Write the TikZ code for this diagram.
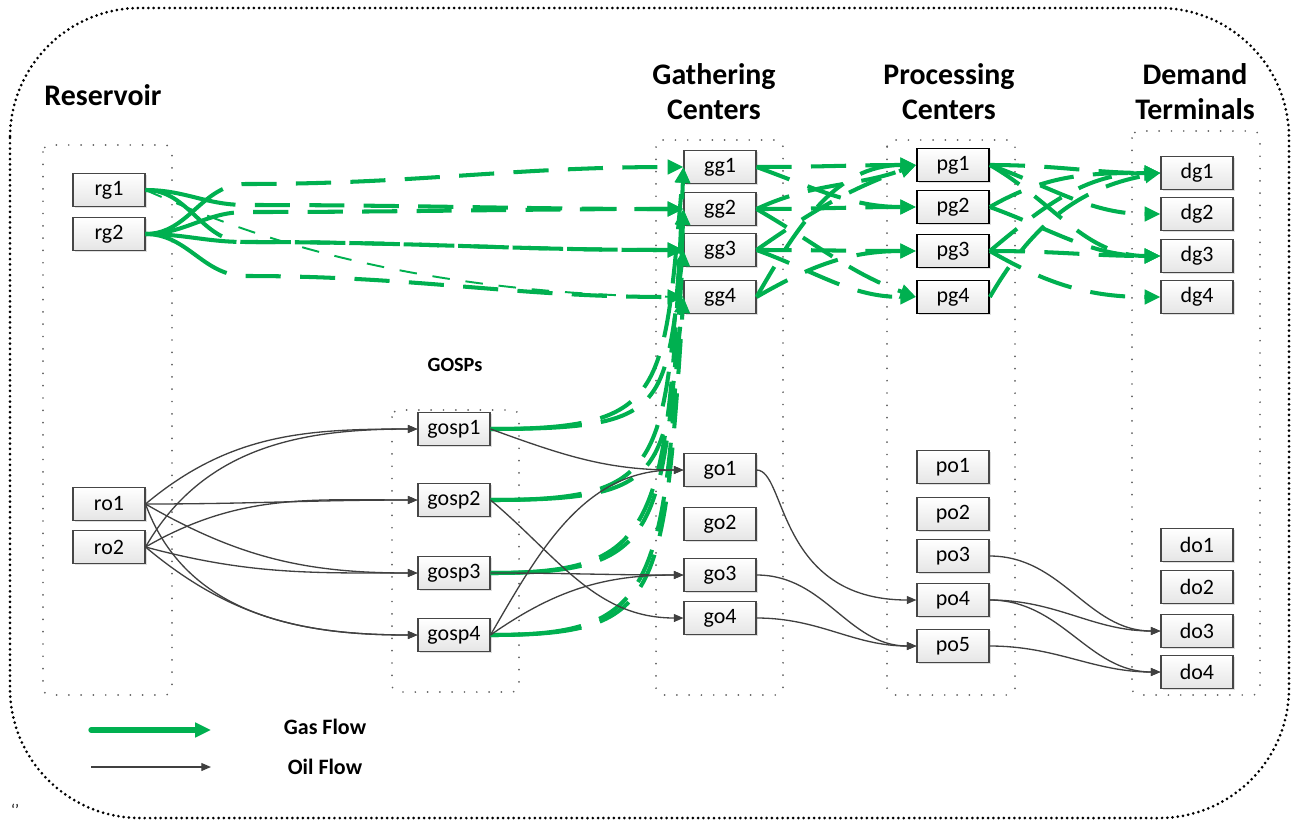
\documentclass[tikz,border=0pt]{standalone}
\usepackage{fontspec}
\setmainfont{Carlito}
\usetikzlibrary{arrows.meta,shadows}
\definecolor{gasgreen}{RGB}{0,176,80}
\definecolor{oilgray}{RGB}{64,64,64}
\tikzset{
  unit/.style = {draw=gray!55!black, line width=0.6pt, top color=white, bottom color=gray!20,
    minimum width=1.44cm, minimum height=0.66cm, inner sep=0pt, font=\fontsize{12.5}{14}\selectfont,
    drop shadow={shadow xshift=1pt, shadow yshift=-1pt, opacity=0.25}},
  procunit/.style = {unit, draw=black, line width=1pt},
  heading/.style = {font=\fontsize{17}{20}\selectfont\bfseries, align=center},
  legendtext/.style = {font=\fontsize{12.5}{15}\selectfont\bfseries},
  gas/.style = {draw=gasgreen, line width=2.3pt, dash pattern=on 20pt off 11pt,
    -{Triangle[length=9pt,width=8pt]}},
  gasfan/.style = {gas, dash pattern=on 52pt off 11pt on 20pt off 11pt on 20pt off 11pt
    on 20pt off 11pt on 20pt off 11pt on 20pt off 11pt on 20pt off 11pt on 20pt off 11pt
    on 20pt off 11pt on 20pt off 11pt},
  thingas/.style = {gas, line width=1.1pt, dash pattern=on 10pt off 9pt},
  oil/.style = {draw=oilgray, line width=0.75pt, -{Triangle[length=5.5pt,width=4.5pt]}},
  groupbox/.style = {draw=gray!75!black, line width=1.1pt, dash pattern=on 0pt off 7pt,
    line cap=round, rounded corners=4pt},
  frame/.style = {draw=black, line width=1.7pt, dash pattern=on 0pt off 3pt,
    line cap=round, rounded corners=2.6cm}
}
\begin{document}
\begin{tikzpicture}[x=0.02cm, y=0.02cm]
      \useasboundingbox (0,0) rectangle (1292,-822);
      % frames
      \draw[frame] (10,-8) rectangle (1289,-818);
      \draw[groupbox] (43,-145) rectangle (172,-695);
      \draw[groupbox] (392,-410) rectangle (519,-692);
      \draw[groupbox] (656,-140) rectangle (783,-695);
      \draw[groupbox] (887,-140) rectangle (1015,-695);
      \draw[groupbox] (1132,-131) rectangle (1260,-695);

      % headings
      \node (hres) [heading] at (103,-95) {Reservoir};
      \node (hgat) [heading] at (714,-92) {Gathering\\Centers};
      \node (hpro) [heading] at (949,-92) {Processing\\Centers};
      \node (hdem) [heading] at (1195,-92) {Demand\\Terminals};
      \node (hgosp) [font=\fontsize{11.5}{14}\selectfont\bfseries] at (455,-365) {GOSPs};

      % place nodes
      \node (rg1) [unit] at (109,-190) {rg1};
      \node (rg2) [unit] at (109,-234) {rg2};
      \node (ro1) [unit] at (109,-504) {ro1};
      \node (ro2) [unit] at (109,-547) {ro2};

      \node (gosp1) [unit] at (454,-429) {gosp1};
      \node (gosp2) [unit] at (454,-500) {gosp2};
      \node (gosp3) [unit] at (454,-573) {gosp3};
      \node (gosp4) [unit] at (454,-635) {gosp4};

      \node (gg1) [unit] at (720,-167) {gg1};
      \node (gg2) [unit] at (720,-209) {gg2};
      \node (gg3) [unit] at (720,-250) {gg3};
      \node (gg4) [unit] at (720,-297) {gg4};
      \node (go1) [unit] at (720,-470) {go1};
      \node (go2) [unit] at (720,-524) {go2};
      \node (go3) [unit] at (720,-575) {go3};
      \node (go4) [unit] at (720,-618) {go4};

      \node (pg1) [procunit] at (953,-165) {pg1};
      \node (pg2) [procunit] at (953,-207) {pg2};
      \node (pg3) [procunit] at (953,-251) {pg3};
      \node (pg4) [procunit] at (953,-297) {pg4};
      \node (po1) [unit] at (953,-467) {po1};
      \node (po2) [unit] at (953,-514) {po2};
      \node (po3) [unit] at (953,-556) {po3};
      \node (po4) [unit] at (953,-600) {po4};
      \node (po5) [unit] at (953,-646) {po5};

      \node (dg1) [unit] at (1197,-173) {dg1};
      \node (dg2) [unit] at (1197,-214) {dg2};
      \node (dg3) [unit] at (1197,-256) {dg3};
      \node (dg4) [unit] at (1197,-297) {dg4};
      \node (do1) [unit] at (1197,-545) {do1};
      \node (do2) [unit] at (1197,-587) {do2};
      \node (do3) [unit] at (1197,-631) {do3};
      \node (do4) [unit] at (1197,-672) {do4};

      % gas edges
      \draw [gasfan] (rg1.east) to[out=0, in=180] ++(100,-15) to[out=0, in=180] (gg2.west);
      \draw [gasfan] (rg1.east) to[out=0, in=180] ++(100,-52) to[out=0, in=180] (gg3.west);
      \draw [thingas] (rg1.east) .. controls +(80,-35) and +(-300,5) .. (gg4.west);
      \draw [gasfan] (rg2.east) to[out=0, in=180] ++(100,50) to[out=0, in=180] (gg1.west);
      \draw [gasfan] (rg2.east) to[out=0, in=180] ++(100,22) to[out=0, in=180] (gg2.west);
      \draw [gasfan] (rg2.east) to[out=0, in=180] ++(100,-8) to[out=0, in=180] (gg3.west);
      \draw [gasfan] (rg2.east) to[out=0, in=180] ++(100,-42) to[out=0, in=180] (gg4.west);

      \draw [gasfan] (gosp1.east) .. controls +(175,0) and +(-20,-230) .. (gg1.west);
      \draw [gasfan] (gosp1.east) .. controls +(175,0) and +(-20,-160) .. (gg3.west);
      \draw [gasfan] (gosp2.east) .. controls +(175,0) and +(-20,-260) .. (gg2.west);
      \draw [gasfan] (gosp2.east) .. controls +(175,0) and +(-20,-180) .. (gg4.west);
      \draw [gasfan] (gosp3.east) .. controls +(170,0) and +(-15,-365) .. (gg1.west);
      \draw [gasfan] (gosp3.east) .. controls +(170,0) and +(-20,-290) .. (gg3.west);
      \draw [gasfan] (gosp4.east) .. controls +(170,0) and +(-15,-385) .. (gg2.west);
      \draw [gasfan] (gosp4.east) .. controls +(170,0) and +(-20,-305) .. (gg4.west);

      \draw [gas] (gg1.east) to[out=0, in=180] (pg1.west);
      \draw [gas] (gg1.east) to[out=-20, in=180] (pg2.west);
      \draw [gas] (gg2.east) to[out=25, in=200] (pg1.west);
      \draw [gas] (gg2.east) to[out=0, in=180] (pg2.west);
      \draw [gas] (gg2.east) to[out=-30, in=160] (pg4.west);
      \draw [gas] (gg3.east) to[out=35, in=200] (pg1.west);
      \draw [gas] (gg3.east) to[out=0, in=180] (pg3.west);
      \draw [gas] (gg3.east) to[out=-20, in=180] (pg4.west);
      \draw [gas] (gg4.east) to[out=60, in=180] (pg1.west);
      \draw [gas] (gg4.east) to[out=30, in=180] (pg3.west);

      \draw [gas] (pg1.east) to[out=0, in=180] (dg1.west);
      \draw [gas] (pg1.east) to[out=-20, in=180] (dg2.west);
      \draw [gas] (pg1.east) to[out=-30, in=180] (dg3.west);
      \draw [gas] (pg2.east) to[out=30, in=180] (dg1.west);
      \draw [gas] (pg2.east) to[out=-20, in=180] (dg3.west);
      \draw [gas] (pg3.east) to[out=40, in=180] (dg1.west);
      \draw [gas] (pg3.east) to[out=0, in=180] (dg3.west);
      \draw [gas] (pg3.east) to[out=-30, in=180] (dg4.west);
      \draw [gas] (pg4.east) to[out=60, in=190] (dg1.west);

      % oil edges
      \draw [oil] (ro1.east) to[out=40, in=180] (gosp1.west);
      \draw [oil] (ro2.east) to[out=60, in=180] (gosp1.west);
      \draw [oil] (ro1.east) to[out=0, in=180] (gosp2.west);
      \draw [oil] (ro2.east) to[out=30, in=180] (gosp2.west);
      \draw [oil] (ro1.east) to[out=-30, in=180] (gosp3.west);
      \draw [oil] (ro2.east) to[out=-15, in=180] (gosp3.west);
      \draw [oil] (ro1.east) to[out=-70, in=180] (gosp4.west);
      \draw [oil] (ro2.east) to[out=-40, in=180] (gosp4.west);

      \draw [oil] (gosp1.east) to[out=-20, in=180] (go1.west);
      \draw [oil] (gosp2.east) to[out=-40, in=180] (go4.west);
      \draw [oil] (gosp3.east) to[out=0, in=180] (go3.west);
      \draw [oil] (gosp4.east) to[out=60, in=180] (go1.west);
      \draw [oil] (gosp4.east) to[out=35, in=180] (go3.west);

      \draw [oil] (go1.east) .. controls +(30,0) and +(-140,0) .. (po4.west);
      \draw [oil] (go3.east) to[out=0, in=180] (po5.west);
      \draw [oil] (go4.east) to[out=0, in=180] (po5.west);

      \draw [oil] (po3.east) to[out=0, in=180] (do3.west);
      \draw [oil] (po4.east) to[out=0, in=180] (do3.west);
      \draw [oil] (po4.east) to[out=0, in=180] (do4.west);
      \draw [oil] (po5.east) to[out=0, in=180] (do4.west);

      % legend
      \coordinate (gasA) at (91,-730);
      \coordinate (gasB) at (211,-730);
      \coordinate (oilA) at (91,-767);
      \coordinate (oilB) at (211,-767);
      \draw [gas, solid, line width=3pt, line cap=round] (gasA) -- (gasB);
      \draw [oil] (oilA) -- (oilB);
      \node (lgas) [legendtext] at (325,-727) {Gas Flow};
      \node (loil) [legendtext] at (325,-767) {Oil Flow};
      \node (quotes) [font=\fontsize{9}{10}\selectfont] at (15,-810) {‘’};
    \end{tikzpicture}
\end{document}
